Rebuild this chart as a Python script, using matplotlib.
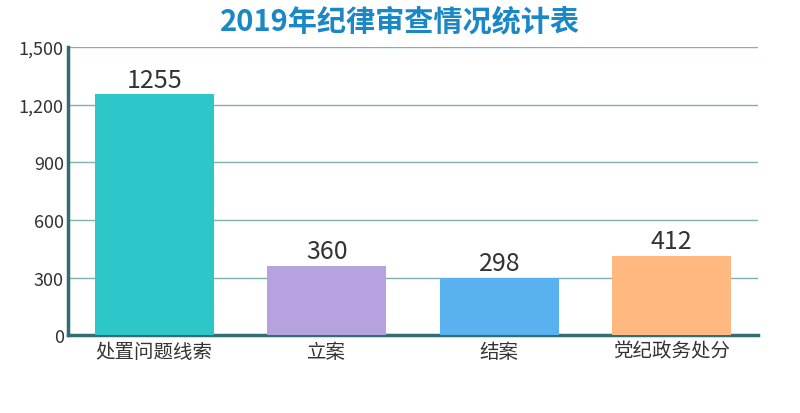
import matplotlib
matplotlib.use("Agg")
import matplotlib.pyplot as plt

plt.rcParams['font.family'] = ['Noto Sans CJK SC', 'DejaVu Sans']

categories = ["处置问题线索", "立案", "结案", "党纪政务处分"]
values = [1255, 360, 298, 412]
colors = ["#2ec7c9", "#b6a2de", "#5ab1ef", "#ffb980"]
yticks = [0, 300, 600, 900, 1200, 1500]
ytick_labels = ["0", "300", "600", "900", "1,200", "1,500"]
title = "2019年纪律审查情况统计表"

fig = plt.figure(figsize=(8, 4.14), dpi=100)
ax = fig.add_axes([0.085, 0.188, 0.8625, 0.696])

x = list(range(len(categories)))
bars = ax.bar(x, values, width=0.69, color=colors, zorder=3)
for b, v in zip(bars, values):
    ax.text(b.get_x() + b.get_width() / 2, v + 8, str(v), ha='center', va='bottom',
            fontsize=18, color='#333333', zorder=4)

ax.set_xlim(-0.5, len(categories) - 0.5)
ax.set_ylim(0, 1500)
ax.set_yticks(yticks)
ax.set_yticklabels(ytick_labels, fontsize=13, color='#333333')
ax.set_xticks(x)
ax.set_xticklabels(categories, fontsize=14, color='#333333')
ax.tick_params(axis='x', length=0, pad=4)
ax.tick_params(axis='y', length=0, pad=3)
ax.yaxis.grid(True, color='#7fb0b2', linewidth=1, zorder=0)
ax.set_axisbelow(True)

for s in ['top', 'right']:
    ax.spines[s].set_visible(False)
for s in ['left', 'bottom']:
    ax.spines[s].set_color('#2f6e72')
    ax.spines[s].set_linewidth(2.5)

fig.text(0.5, 0.948, title, ha='center', va='center', fontsize=21,
         fontweight='bold', color='#1a87c6')

fig.savefig("out.png", dpi=100, facecolor='white')
